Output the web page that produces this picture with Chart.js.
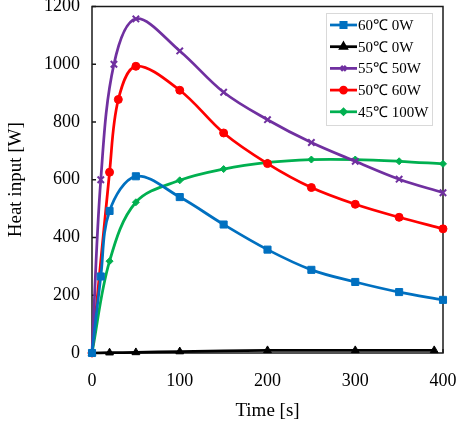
<!DOCTYPE html>
<html>
<head>
<meta charset="utf-8">
<script src="https://cdn.jsdelivr.net/npm/chart.js@4/dist/chart.umd.min.js"></script>
<style>
  body { margin: 0; background: #fff; }
  #wrap { width: 459px; height: 422px; }
</style>
</head>
<body>
<div id="wrap"><canvas id="heatChart" width="459" height="422"></canvas></div>
<script>
// ========== DATA ==========
const seriesNames = ['60\u2103 0W', '50\u2103 0W', '55\u2103 50W', '50\u2103 60W', '45\u2103 100W'];

const time60c0w = [0, 10, 20, 50, 100, 150, 200, 250, 300, 350, 400];
const heat60c0w = [0, 265, 492, 612, 540, 445, 358, 288, 246, 211, 184];

const time50c0w = [0, 20, 50, 100, 200, 300, 390];
const heat50c0w = [0, 1, 2, 5, 9, 9, 9];

const time55c50w = [0, 10, 25, 50, 100, 150, 200, 250, 300, 350, 400];
const heat55c50w = [0, 600, 1000, 1157, 1046, 903, 808, 729, 664, 602, 555];

const time50c60w = [0, 20, 30, 50, 100, 150, 200, 250, 300, 350, 400];
const heat50c60w = [0, 626, 878, 993, 910, 762, 656, 573, 515, 470, 430];

const time45c100w = [0, 20, 50, 100, 150, 200, 250, 300, 350, 400];
const heat45c100w = [0, 318, 522, 598, 637, 660, 670, 670, 664, 655];

const xTicks = [0, 100, 200, 300, 400];
const yTicks = [0, 200, 400, 600, 800, 1000, 1200];

const SERIF = "'Liberation Serif', 'Times New Roman', serif";

function toPoints(xs, ys) {
    return xs.map((x, i) => ({ x: x, y: ys[i] }));
}

function makeSet(idx, xs, ys, color, style, radius) {
    return {
        label: seriesNames[idx],
        data: toPoints(xs, ys),
        borderColor: color,
        backgroundColor: color,
        borderWidth: 2.75,
        pointStyle: style,
        pointRadius: radius,
        pointBorderWidth: style === 'crossRot' ? 2 : 1,
        tension: 0.35,
        clip: false
    };
}

// ========== PLUGINS ==========
// frame round the plot area + short inward tick marks
const framePlugin = {
    id: 'frame',
    beforeDatasetsDraw(chart) {
        const { ctx, chartArea: a, scales } = chart;
        ctx.save();
        ctx.strokeStyle = '#1a1a1a';
        ctx.lineWidth = 1.5;
        ctx.strokeRect(a.left, a.top, a.right - a.left, a.bottom - a.top);
        ctx.beginPath();
        yTicks.forEach(v => {
            const py = scales.y.getPixelForValue(v);
            ctx.moveTo(a.left, py);
            ctx.lineTo(a.left + 4, py);
        });
        xTicks.forEach(v => {
            const px = scales.x.getPixelForValue(v);
            ctx.moveTo(px, a.bottom);
            ctx.lineTo(px, a.bottom - 4);
        });
        ctx.stroke();
        ctx.restore();
    }
};

// legend box inside the plot, top right
const legendBoxPlugin = {
    id: 'legendBox',
    afterDraw(chart) {
        const ctx = chart.ctx;
        const box = { x: 326, y: 13, w: 106, h: 112 };
        ctx.save();
        ctx.fillStyle = '#fff';
        ctx.fillRect(box.x, box.y, box.w, box.h);
        ctx.strokeStyle = '#d9d9d9';
        ctx.lineWidth = 1;
        ctx.strokeRect(box.x + 0.5, box.y + 0.5, box.w, box.h);

        ctx.font = '15px ' + SERIF;
        ctx.textBaseline = 'middle';
        chart.data.datasets.forEach((ds, i) => {
            const y = box.y + 12 + i * 21.7;
            ctx.strokeStyle = ds.borderColor;
            ctx.lineWidth = 2.75;
            ctx.beginPath();
            ctx.moveTo(box.x + 4, y);
            ctx.lineTo(box.x + 31, y);
            ctx.stroke();
            ctx.fillStyle = ds.backgroundColor;
            Chart.helpers.drawPoint(ctx, {
                pointStyle: ds.pointStyle,
                radius: ds.pointRadius * 0.75,
                rotation: 0,
                borderWidth: ds.pointBorderWidth
            }, box.x + 17.5, y);
            ctx.fillStyle = '#000';
            ctx.fillText(ds.label, box.x + 32, y + 1);
        });
        ctx.restore();
    }
};

// ========== CHART ==========
const ctx = document.getElementById('heatChart');

window.heatChart = new Chart(ctx, {
    type: 'line',
    data: {
        datasets: [
            makeSet(0, time60c0w, heat60c0w, '#0070c0', 'rect', 5),
            makeSet(1, time50c0w, heat50c0w, '#000000', 'triangle', 4.5),
            makeSet(2, time55c50w, heat55c50w, '#7030a0', 'crossRot', 4.5),
            makeSet(3, time50c60w, heat50c60w, '#ff0000', 'circle', 4),
            makeSet(4, time45c100w, heat45c100w, '#00b050', 'rectRot', 3.5)
        ]
    },
    options: {
        responsive: false,
        animation: false,
        layout: { padding: { top: 6, right: 16, left: 0, bottom: 0 } },
        plugins: {
            legend: { display: false },
            tooltip: { enabled: false }
        },
        scales: {
            x: {
                type: 'linear',
                min: 0,
                max: 400,
                afterBuildTicks: s => { s.ticks = xTicks.map(v => ({ value: v })); },
                afterFit: s => { s.height = 69; s.paddingLeft = 0; s.paddingRight = 0; },
                grid: { display: false, drawTicks: false },
                border: { display: false },
                ticks: {
                    padding: 17,
                    color: '#000',
                    font: { family: SERIF, size: 18 },
                    maxRotation: 0,
                    callback: v => String(v)
                },
                title: {
                    display: true,
                    text: 'Time [s]',
                    color: '#000',
                    font: { family: SERIF, size: 19 },
                    padding: { top: 0, bottom: 0 }
                }
            },
            y: {
                min: 0,
                max: 1200,
                afterBuildTicks: s => { s.ticks = yTicks.map(v => ({ value: v })); },
                afterFit: s => { s.width = 92; s.paddingTop = 0; s.paddingBottom = 0; },
                grid: { display: false, drawTicks: false },
                border: { display: false },
                ticks: {
                    padding: 12,
                    color: '#000',
                    font: { family: SERIF, size: 18 },
                    callback: v => String(v)
                },
                title: {
                    display: true,
                    text: 'Heat input [W]',
                    color: '#000',
                    font: { family: SERIF, size: 19 },
                    padding: { top: 5, bottom: 0 }
                }
            }
        }
    },
    plugins: [framePlugin, legendBoxPlugin]
});
</script>
</body>
</html>
